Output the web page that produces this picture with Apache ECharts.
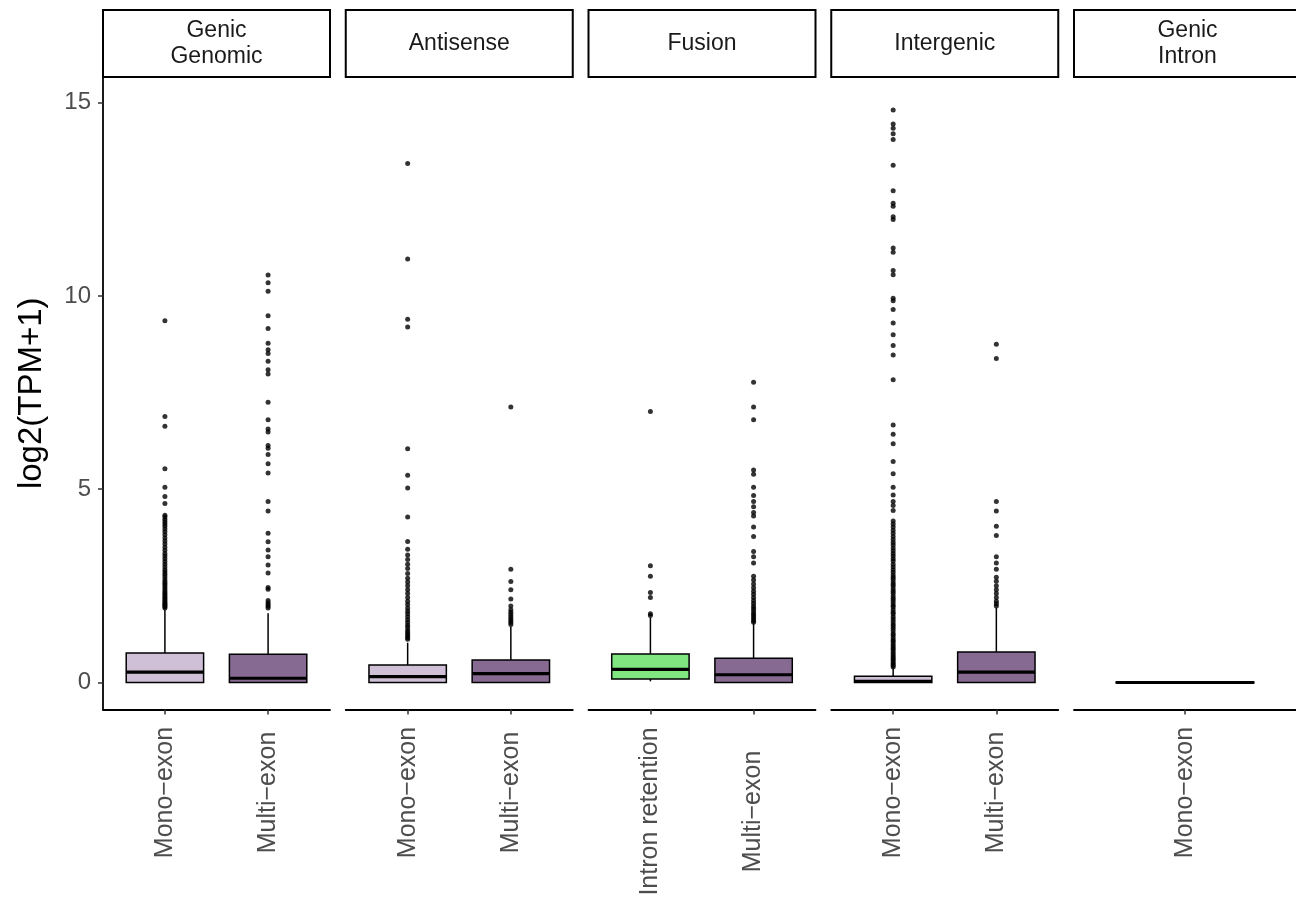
<!DOCTYPE html>
<html>
<head>
<meta charset="utf-8">
<script src="https://cdn.jsdelivr.net/npm/echarts@6/dist/echarts.min.js"></script>
<style>
html, body { margin: 0; padding: 0; background: #ffffff; }
#chart { width: 1296px; height: 900px; }
</style>
</head>
<body>
<div id="chart"></div>
<script>
// Facet panels (strip titles) and the transcript classes shown in each one
const facets = ['Genic\nGenomic', 'Antisense', 'Fusion', 'Intergenic', 'Genic\nIntron'];
const facetCategories = [
  ['Mono−exon', 'Multi−exon'],
  ['Mono−exon', 'Multi−exon'],
  ['Intron retention', 'Multi−exon'],
  ['Mono−exon', 'Multi−exon'],
  ['Mono−exon']
];

// Box statistics per class: [lower whisker, Q1, median, Q3, upper whisker]
const genicGenomicBoxes = [[0, 0, 0.27, 0.76, 1.88], [0, 0, 0.11, 0.73, 1.79]];
const antisenseBoxes    = [[0, 0, 0.15, 0.45, 1.03], [0, 0, 0.23, 0.58, 1.45]];
const fusionBoxes       = [[0.03, 0.09, 0.34, 0.74, 1.68], [0, 0, 0.2, 0.63, 1.53]];
const intergenicBoxes   = [[0, 0, 0.03, 0.16, 0.36], [0, 0, 0.27, 0.79, 1.93]];
const genicIntronBoxes  = [[0, 0, 0, 0, 0]];

// Outlying log2(TPM+1) values per class
const genicGenomicMono = [1.93, 1.96, 1.99, 2.02, 2.05, 2.08, 2.12, 2.16, 2.2, 2.24, 2.28, 2.32, 2.37, 2.42,
  2.47, 2.52, 2.57, 2.62, 2.68, 2.74, 2.8, 2.86, 2.92, 2.99, 3.06, 3.13, 3.2, 3.27, 3.34, 3.42, 3.5, 3.58,
  3.66, 3.74, 3.82, 3.9, 3.97, 4.04, 4.1, 4.16, 4.22, 4.28, 4.33, 4.63, 4.81, 5.05, 5.53, 6.63, 6.88, 9.36];
const genicGenomicMulti = [1.93, 1.97, 2.02, 2.06, 2.12, 2.41, 2.46, 2.83, 3.04, 3.25, 3.43, 3.64, 3.86, 4.44,
  4.68, 5.42, 5.66, 5.9, 6.06, 6.13, 6.48, 6.56, 6.8, 7.25, 7.98, 8.09, 8.31, 8.51, 8.61, 8.78, 9.16, 9.49,
  10.12, 10.34, 10.54];
const antisenseMono = [1.12, 1.16, 1.2, 1.25, 1.3, 1.35, 1.42, 1.48, 1.55, 1.62, 1.7, 1.78, 1.85, 1.93, 2.02,
  2.1, 2.2, 2.3, 2.4, 2.5, 2.6, 2.7, 2.82, 2.95, 3.06, 3.18, 3.3, 3.45, 3.65, 4.28, 5.03, 5.36, 6.05, 9.2,
  9.4, 10.96, 13.43];
const antisenseMulti = [1.5, 1.55, 1.6, 1.65, 1.7, 1.76, 1.82, 1.88, 1.98, 2.16, 2.4, 2.61, 2.93, 7.13];
const fusionIntronRetention = [1.73, 1.78, 2.2, 2.33, 2.75, 3.02, 7.01];
const fusionMulti = [1.56, 1.6, 1.65, 1.7, 1.75, 1.8, 1.86, 1.92, 1.98, 2.05, 2.12, 2.2, 2.28, 2.36, 2.45,
  2.55, 2.65, 2.75, 3.09, 3.25, 3.39, 3.78, 4.02, 4.31, 4.4, 4.55, 4.68, 4.84, 5.05, 5.39, 5.5, 6.8, 7.13, 7.77];
const intergenicMono = [0.4, 0.44, 0.48, 0.52, 0.57, 0.61, 0.65, 0.7, 0.75, 0.8, 0.86, 0.9, 0.95, 1.0, 1.06,
  1.1, 1.16, 1.22, 1.27, 1.34, 1.4, 1.46, 1.51, 1.58, 1.64, 1.7, 1.77, 1.82, 1.88, 1.95, 2.0, 2.06, 2.13,
  2.18, 2.24, 2.31, 2.36, 2.42, 2.49, 2.54, 2.6, 2.67, 2.72, 2.78, 2.85, 2.92, 2.99, 3.06, 3.14, 3.2, 3.27,
  3.34, 3.41, 3.48, 3.56, 3.62, 3.7, 3.78, 3.86, 3.94, 4.02, 4.1, 4.18, 4.45, 4.58, 4.68, 4.85, 5.05, 5.4,
  5.72, 6.18, 6.42, 6.66, 7.83, 8.47, 8.72, 9.0, 9.3, 9.65, 9.88, 9.94, 10.55, 10.66, 11.13, 11.24, 11.98,
  12.05, 12.32, 12.4, 12.72, 13.38, 14.05, 14.2, 14.34, 14.45, 14.81];
const intergenicMulti = [1.98, 2.04, 2.1, 2.2, 2.3, 2.4, 2.5, 2.62, 2.72, 2.93, 3.09, 3.25, 3.8, 4.04, 4.44,
  4.68, 8.38, 8.75];
const genicIntronMono = [];

const yTicks = [0, 5, 10, 15];
const classColors = {
  'Mono−exon': '#CFC0D7',
  'Multi−exon': '#876A92',
  'Intron retention': '#80E680'
};

const facetBoxes = [genicGenomicBoxes, antisenseBoxes, fusionBoxes, intergenicBoxes, genicIntronBoxes];
const facetOutliers = [
  [genicGenomicMono, genicGenomicMulti],
  [antisenseMono, antisenseMulti],
  [fusionIntronRetention, fusionMulti],
  [intergenicMono, intergenicMulti],
  [genicIntronMono]
];

// Panel geometry
const panelLeft = 103, panelWidth = 227, panelStep = 242.75;
const panelTop = 77, panelHeight = 632.5;
const stripTop = 10, stripHeight = 67;
const yMin = -0.699, yMax = 15.666;
const fontFamily = 'Liberation Sans, Arial, sans-serif';

const chart = echarts.init(document.getElementById('chart'), null, { renderer: 'canvas' });

const grids = [], xAxes = [], yAxes = [], series = [], graphics = [];

function renderBox(params, api) {
  const x = api.value(0);
  const pLo = api.coord([x, api.value(1)]);
  const pQ1 = api.coord([x, api.value(2)]);
  const pMed = api.coord([x, api.value(3)]);
  const pQ3 = api.coord([x, api.value(4)]);
  const pHi = api.coord([x, api.value(5)]);
  const half = api.size([0.75, 0])[0] / 2;
  const line = { stroke: '#000', lineWidth: 1.5 };
  return {
    type: 'group',
    children: [
      { type: 'line', shape: { x1: pQ3[0], y1: pQ3[1], x2: pHi[0], y2: pHi[1] }, style: line },
      { type: 'line', shape: { x1: pQ1[0], y1: pQ1[1], x2: pLo[0], y2: pLo[1] }, style: line },
      { type: 'rect', shape: { x: pQ1[0] - half, y: pQ3[1], width: half * 2, height: pQ1[1] - pQ3[1] },
        style: { fill: api.visual('color'), stroke: '#000', lineWidth: 1.5 } },
      { type: 'line', shape: { x1: pMed[0] - half, y1: pMed[1], x2: pMed[0] + half, y2: pMed[1] },
        style: { stroke: '#000', lineWidth: 3.2 } }
    ]
  };
}

facets.forEach((facet, i) => {
  const cats = facetCategories[i];
  const left = panelLeft + i * panelStep;
  const positions = cats.map((c, k) => k + 1);
  const longest = Math.max(...cats.map(c => c.length));
  grids.push({ left: left, top: panelTop, width: panelWidth, height: panelHeight });

  xAxes.push({
    type: 'value', gridIndex: i, min: 0.4, max: cats.length + 0.6,
    splitLine: { show: false },
    axisLine: { show: true, onZero: false, lineStyle: { color: '#000', width: 1.8 } },
    axisTick: { show: true, customValues: positions, length: 5, lineStyle: { color: '#333', width: 1.5 } },
    axisLabel: {
      show: true, customValues: positions, rotate: 90, align: 'center', verticalAlign: 'middle',
      margin: longest > 12 ? 102 : 83,
      color: '#4D4D4D', fontSize: 25, fontFamily: fontFamily,
      formatter: v => cats[Math.round(v) - 1] || ''
    }
  });

  yAxes.push({
    type: 'value', gridIndex: i, min: yMin, max: yMax,
    splitLine: { show: false },
    axisLine: { show: i === 0, onZero: false, lineStyle: { color: '#000', width: 1.8 } },
    axisTick: { show: i === 0, customValues: yTicks, length: 5, lineStyle: { color: '#333', width: 1.5 } },
    axisLabel: {
      show: i === 0, customValues: yTicks, margin: 12,
      color: '#4D4D4D', fontSize: 24, fontFamily: fontFamily
    },
    name: i === 0 ? 'log2(TPM+1)' : '',
    nameLocation: 'middle', nameGap: 55,
    nameTextStyle: { color: '#000', fontSize: 33, fontFamily: fontFamily }
  });

  series.push({
    type: 'custom', xAxisIndex: i, yAxisIndex: i, renderItem: renderBox, silent: true,
    encode: { x: 0, y: [1, 2, 3, 4, 5] },
    data: facetBoxes[i].map((b, k) => ({
      value: [k + 1].concat(b),
      itemStyle: { color: classColors[cats[k]] }
    })),
    z: 2
  });

  series.push({
    type: 'scatter', xAxisIndex: i, yAxisIndex: i, silent: true,
    symbol: 'circle', symbolSize: 5,
    itemStyle: { color: '#000' },
    data: facetOutliers[i].flatMap((vals, k) => vals.map(v => [k + 1, v])),
    z: 3
  });

  graphics.push({
    type: 'rect',
    shape: { x: left, y: stripTop, width: panelWidth, height: stripHeight },
    style: { fill: '#fff', stroke: '#000', lineWidth: 2 }
  });
  graphics.push({
    type: 'text',
    x: left + panelWidth / 2, y: stripTop + stripHeight / 2,
    style: {
      text: facet, align: 'center', verticalAlign: 'middle',
      fill: '#1A1A1A', fontSize: 23, lineHeight: 26,
      fontFamily: fontFamily
    }
  });
});

chart.setOption({
  animation: false,
  backgroundColor: '#ffffff',
  grid: grids,
  xAxis: xAxes,
  yAxis: yAxes,
  series: series,
  graphic: graphics
});
</script>
</body>
</html>
